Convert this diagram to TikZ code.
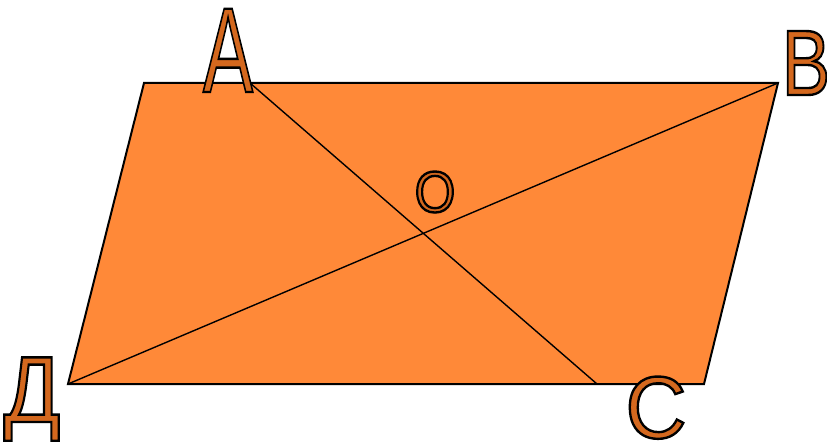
\documentclass[tikz,border=0pt]{standalone}
\usepackage{fontspec}
\setmainfont{Liberation Sans}
\definecolor{fillor}{RGB}{255,137,56}
\definecolor{letor}{RGB}{212,104,30}
\newcommand\outl[1]{\special{pdf:literal direct 2 Tr 2.4 w 0 0 0 RG}#1\special{pdf:literal direct 0 Tr}}
\tikzset{
  lettr/.style={anchor=base, inner sep=0pt, text=letor},
  diag/.style={draw=black, line width=1.4pt}
}
\begin{document}
\begin{tikzpicture}[x=1pt,y=-1pt]
\useasboundingbox (0,0) rectangle (827,443);
\coordinate (TL) at (144,83);
\coordinate (TR) at (778,83);
\coordinate (BR) at (704,384);
\coordinate (BL) at (68,384);
\coordinate (Ap) at (250,83);
\coordinate (Cp) at (597,384);
\fill[fillor] (TL) -- (TR) -- (BR) -- (BL) -- cycle;
\draw[diag] (Ap) -- (Cp);
\draw[diag] (BL) -- (TR);
\draw[line width=2pt, line join=miter] (TL) -- (TR) -- (BR) -- (BL) -- cycle;
\node[lettr, font=\fontsize{121}{121}\selectfont] (la) at (228,92) {\scalebox{0.62}[1]{\outl{А}}};
\node[lettr, font=\fontsize{93}{93}\selectfont] (lb) at (806,95) {\scalebox{0.78}[1]{\outl{В}}};
\node[lettr, font=\fontsize{58}{58}\selectfont] (lo) at (435,212) {\scalebox{0.9}[1]{\outl{О}}};
\node[lettr, font=\fontsize{94}{94}\selectfont] (ld) at (32,422) {\scalebox{0.89}[1]{\outl{Д}}};
\node[lettr, font=\fontsize{88}{88}\selectfont] (lc) at (656,438) {\scalebox{0.96}[1]{\outl{С}}};
\end{tikzpicture}
\end{document}
